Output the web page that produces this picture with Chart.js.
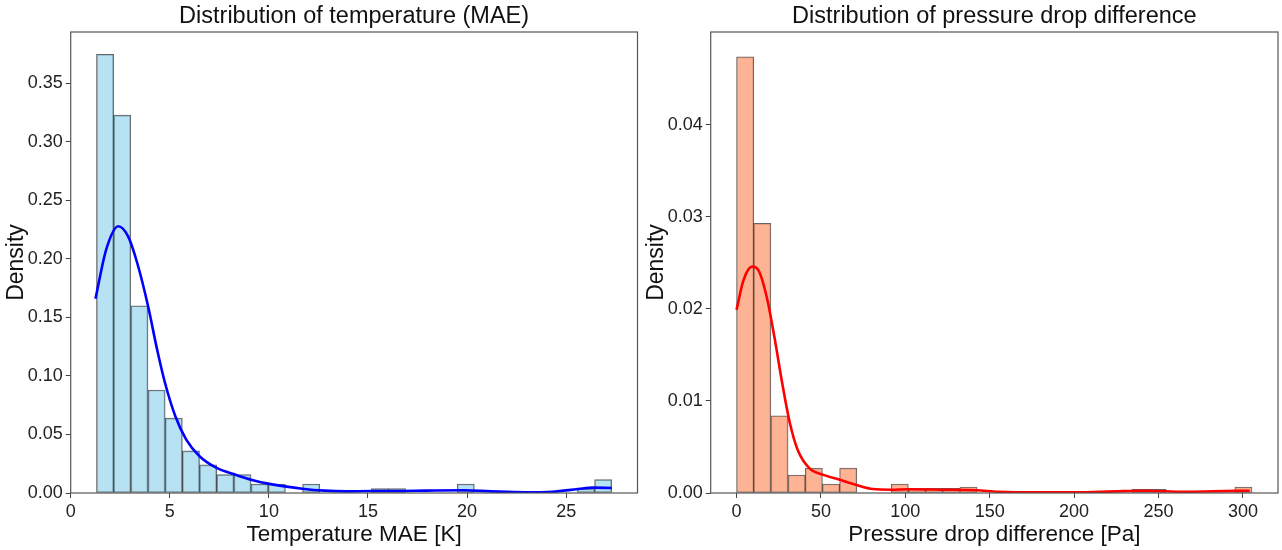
<!DOCTYPE html>
<html>
<head>
<meta charset="utf-8">
<title>Distributions</title>
<script src="https://cdn.jsdelivr.net/npm/chart.js@4.4.1/dist/chart.umd.min.js"></script>
<style>
    body { margin: 0; background: #fff; }
    #wrap { position: relative; width: 1282px; height: 550px; }
    .panel { position: absolute; top: 0; width: 641px; height: 550px; }
</style>
</head>
<body>
<div id="wrap">
    <div class="panel" style="left:0"><canvas id="tempChart" width="641" height="550"></canvas></div>
    <div class="panel" style="left:641px"><canvas id="pressChart" width="641" height="550"></canvas></div>
</div>
<script>
// temperature MAE histogram (30 bins, density)
const tempBinStart = 1.3;
const tempBinWidth = 0.8667;
const tempDensity = [0.375, 0.323, 0.160, 0.088, 0.064, 0.036, 0.024, 0.0157, 0.0157, 0.0077,
    0.0077, 0, 0.0077, 0, 0, 0, 0.0038, 0.0038, 0, 0,
    0, 0.0077, 0, 0, 0, 0, 0, 0, 0.0038, 0.0114];
const tempKdeX = [1.25, 1.79, 2.40, 2.89, 3.35, 3.90, 4.36, 4.76, 5.28, 5.83, 6.50, 7.36, 8.22, 9.10,
    9.95, 11.69, 12.8, 13.9, 15.2, 16.45, 17.9, 19.84, 21.2, 22.9, 24.3, 25.6, 26.35, 27.3];
const tempKdeY = [0.166, 0.208, 0.228, 0.2195, 0.197, 0.160, 0.1226, 0.094, 0.0656, 0.0456, 0.0314, 0.0214, 0.0162, 0.0114,
    0.0080, 0.0037, 0.0020, 0.0014, 0.0017, 0.0017, 0.0020, 0.0023, 0.0014, 0.0006, 0.0011, 0.0034, 0.0046, 0.0043];
const tempXTicks = [0, 5, 10, 15, 20, 25];
const tempYTicks = [0, 0.05, 0.10, 0.15, 0.20, 0.25, 0.30, 0.35];

// pressure drop difference histogram (30 bins, density)
const pressBinStart = 0;
const pressBinWidth = 10.18;
const pressDensity = [0.0474, 0.0293, 0.0084, 0.00196, 0.0027, 0.00098, 0.0027, 0, 0, 0.00098,
    0.0005, 0.0005, 0.0005, 0.00065, 0, 0, 0, 0, 0, 0,
    0, 0, 0, 0.0004, 0.0004, 0, 0, 0, 0, 0.00065];
const pressKdeX = [0, 4.1, 9.2, 13.3, 17.9, 22.5, 27.1, 31.6, 36.2, 43.1, 51.1, 61.2, 70.6, 80.9, 91.3,
    101.6, 121, 142, 155, 178, 201, 224, 243, 265, 281.6, 304];
const pressKdeY = [0.0199, 0.0231, 0.0246, 0.0241, 0.0213, 0.0169, 0.0119, 0.0076, 0.0047, 0.0027, 0.0020, 0.00144, 0.0009, 0.00043, 0.00036,
    0.0004, 0.00036, 0.0003, 0.00014, 0.00007, 0.00007, 0.00018, 0.00025, 0.00014, 0.00018, 0.00025];
const pressXTicks = [0, 50, 100, 150, 200, 250, 300];
const pressYTicks = [0, 0.01, 0.02, 0.03, 0.04];

const FONT = "'Liberation Sans', Arial, sans-serif";

// box around the plot area + title centred over it, like a matplotlib axes
const frameBox = {
    id: 'frameBox',
    afterDraw(chart, args, opts) {
        const a = chart.chartArea;
        const ctx = chart.ctx;
        ctx.save();
        ctx.strokeStyle = '#555';
        ctx.lineWidth = 1.2;
        ctx.strokeRect(a.left, a.top, a.right - a.left, a.bottom - a.top);
        ctx.fillStyle = '#111';
        ctx.font = '23.5px ' + FONT;
        ctx.textAlign = 'center';
        ctx.textBaseline = 'middle';
        ctx.fillText(opts.text, (a.left + a.right) / 2, 17);
        ctx.restore();
    }
};

function binPoints(start, width, values) {
    return values.map((v, i) => ({ x: start + (i + 0.5) * width, y: v }));
}

function createHistChart(id, cfg) {
    const ctx = document.getElementById(id).getContext('2d');
    return new Chart(ctx, {
        type: 'bar',
        data: {
            datasets: [{
                type: 'line',
                data: cfg.kdeX.map((x, i) => ({ x: x, y: cfg.kdeY[i] })),
                borderColor: cfg.lineColor,
                borderWidth: 2.6,
                pointRadius: 0,
                cubicInterpolationMode: 'monotone',
                fill: false,
                order: 0
            }, {
                type: 'bar',
                data: binPoints(cfg.binStart, cfg.binWidth, cfg.density),
                backgroundColor: cfg.barColor,
                borderColor: 'rgba(0, 0, 0, 0.6)',
                borderWidth: 1,
                borderSkipped: false,
                barPercentage: 1,
                categoryPercentage: 1,
                order: 1
            }]
        },
        options: {
            responsive: false,
            devicePixelRatio: 1,
            animation: false,
            layout: { padding: { left: 0, right: cfg.padRight, top: 32, bottom: 0 } },
            plugins: {
                legend: { display: false },
                tooltip: { enabled: false },
                title: { display: false },
                frameBox: { text: cfg.title }
            },
            scales: {
                x: {
                    type: 'linear',
                    offset: false,
                    min: cfg.xMin,
                    max: cfg.xMax,
                    afterBuildTicks: s => { s.ticks = cfg.xTicks.map(v => ({ value: v })); },
                    afterFit: s => { s.height = 57; },
                    grid: { display: true, drawOnChartArea: false, drawTicks: true, tickLength: 5, color: '#444', offset: false },
                    border: { display: false },
                    ticks: { color: '#222', padding: 3, maxRotation: 0, font: { family: FONT, size: 18 } },
                    title: {
                        display: true,
                        text: cfg.xTitle,
                        color: '#111',
                        font: { family: FONT, size: 22.5 },
                        padding: { top: 0, bottom: 1.5 }
                    }
                },
                y: {
                    min: 0,
                    max: cfg.yMax,
                    afterBuildTicks: s => { s.ticks = cfg.yTicks.map(v => ({ value: v })); },
                    afterFit: s => { s.width = cfg.yWidth; },
                    grid: { display: true, drawOnChartArea: false, drawTicks: true, tickLength: 5, color: '#444' },
                    border: { display: false },
                    ticks: {
                        color: '#222',
                        padding: 3,
                        font: { family: FONT, size: 18 },
                        callback: v => v.toFixed(2)
                    },
                    title: {
                        display: true,
                        text: 'Density',
                        color: '#111',
                        font: { family: FONT, size: 23 },
                        padding: { top: cfg.yTitlePad, bottom: 0 }
                    }
                }
            }
        },
        plugins: [frameBox]
    });
}

createHistChart('tempChart', {
    title: 'Distribution of temperature (MAE)',
    xTitle: 'Temperature MAE [K]',
    binStart: tempBinStart,
    binWidth: tempBinWidth,
    density: tempDensity,
    kdeX: tempKdeX,
    kdeY: tempKdeY,
    xTicks: tempXTicks,
    yTicks: tempYTicks,
    xMin: 0,
    xMax: 28.6,
    yMax: 0.394,
    yWidth: 70.7,
    padRight: 3.5,
    yTitlePad: 2.5,
    barColor: 'rgba(135, 206, 235, 0.6)',
    lineColor: '#0000ff'
});

createHistChart('pressChart', {
    title: 'Distribution of pressure drop difference',
    xTitle: 'Pressure drop difference [Pa]',
    binStart: pressBinStart,
    binWidth: pressBinWidth,
    density: pressDensity,
    kdeX: pressKdeX,
    kdeY: pressKdeY,
    xTicks: pressXTicks,
    yTicks: pressYTicks,
    xMin: -15.3,
    xMax: 320.8,
    yMax: 0.0501,
    yWidth: 69.7,
    padRight: 4,
    yTitlePad: 1.5,
    barColor: 'rgba(255, 160, 122, 0.8)',
    lineColor: '#ff0000'
});
</script>
</body>
</html>
